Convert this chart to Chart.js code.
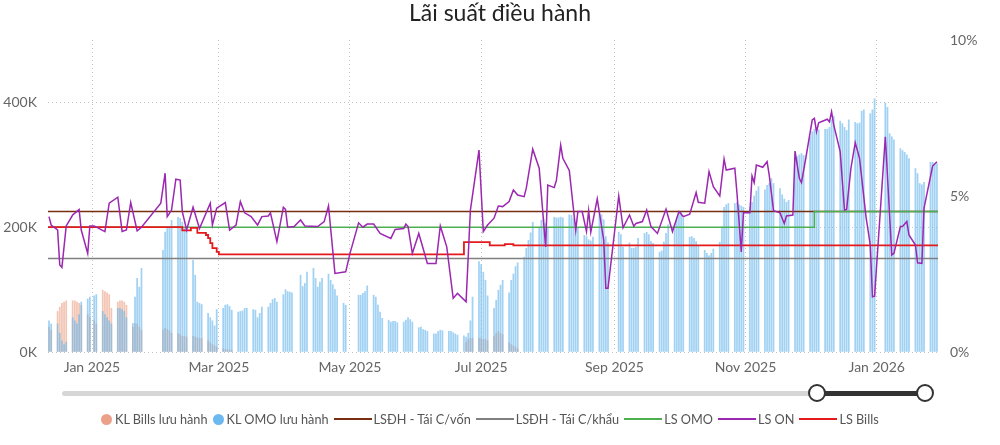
<!DOCTYPE html>
<html lang="vi">
<head>
<meta charset="utf-8">
<title>Lãi suất điều hành</title>
<script src="https://cdn.jsdelivr.net/npm/chart.js@4.4.1/dist/chart.umd.min.js"></script>
<style>
  body { margin: 0; background: #fff; }
  #wrap { position: relative; width: 1000px; height: 445px; font-family: Lato, sans-serif; }
  #rates { position: absolute; left: 0; top: 0; }
  .track { position: absolute; left: 62px; top: 391px; width: 863px; height: 5px; border-radius: 3px; background: #d6d6d6; }
  .range { position: absolute; left: 817px; top: 391px; width: 108px; height: 5px; background: #333; }
  .handle { position: absolute; top: 384px; width: 14px; height: 14px; margin-left: -9.5px;
            border: 2.5px solid #333; border-radius: 50%; background: #fff; }
  #legend { position: absolute; left: 101px; top: 411px; display: flex; align-items: center;
            font-size: 12.7px; color: #555; white-space: nowrap; }
  .item { display: flex; align-items: center; margin-right: 5px; }
  .dot { width: 11px; height: 11px; border-radius: 50%; margin-right: 3px; }
  .line { width: 38px; height: 2px; margin-right: 2px; }
</style>
</head>
<body>
<div id="wrap">
  <canvas id="rates" width="1000" height="445"></canvas>
  <div class="track"></div>
  <div class="range"></div>
  <div class="handle" style="left:817px"></div>
  <div class="handle" style="left:925px"></div>
  <div id="legend"></div>
</div>
<script>
// x values are days counted from 1 Jan 2025
const X_MIN = -20.47;
const X_MAX = 393.5;

const xTickDays   = [0, 59, 120, 181, 243, 304, 365];
const xTickLabels = ["Jan 2025", "Mar 2025", "May 2025", "Jul 2025", "Sep 2025", "Nov 2025", "Jan 2026"];
const leftTicks       = [0, 200, 400];
const leftTickLabels  = ["0K", "200K", "400K"];
const rightTicks      = [0, 5, 10];
const rightTickLabels = ["0%", "5%", "10%"];

// Outstanding volumes (thousand bn VND), one row per week Mon..Fri, first row = week of 9 Dec 2024
const WEEK0 = -23;
const omoWeeks = [
  [null, null, null, 50, 45],
  [45, 30, 18, 12, 16],
  [55, 50, 45, 60, 80],
  [85, 88, null, 90, 92],
  [65, 60, 55, 50, 45],          // 6 Jan 2025
  [70, 70, 68, 65, 55],
  [46, 88, 118, 104, 134],
  [],                            // Tet
  [163, 192, 198, 200, 211],     // 3 Feb
  [216, 214, 208, 200, 195],
  [147, 123, 80, 78, 76],
  [62, 55, 50, 42, 68],
  [70, 75, 76, 73, 67],          // 3 Mar
  [64, 65, 66, 70, 70],
  [68, 67, 55, 62, 72],
  [72, 78, 84, 86, 80],
  [92, 100, 97, 96, 95],         // 31 Mar
  [null, 123, 105, 110, 128],
  [134, 118, 104, 112, 118],
  [125, 115, 108, 100, 90],
  [78, 75],                      // 28 Apr
  [91, 91, 94, 97, 106],         // 5 May
  [91, 88, 75, 64, 54],
  [51, 48, 49, 49, 47],
  [48, 51, 55, 52, 48],
  [39, 40, 36, 35, 33],          // 2 Jun
  [29, 29, 33, 35, 34],
  [33, 33, 31, 29, 27],
  [26, 24, 30, 50, 88],
  [145, 140, 128, 115, 90],      // 30 Jun
  [70, 83, 99, 107, 115],
  [95, 115, 125, 137, 143],
  [152, 166, 179, 191, 208],
  [200, 211, 214, 206, 200],     // 28 Jul
  [216, 215, 215, 216, 215],
  [220, 219, 214, 206, 198],
  [187, 185, 180, 178, 184],
  [222, 220, 212, 185, 175],
  [null, null, 192, 188, 168],   // 1 Sep
  [175, 166, 166, 168, 182],
  [190, 192, 188, 177, 174],
  [160, 162, 176, 190, 204],
  [205, 216, 222, 225, 215],     // 29 Sep
  [184, 185, 182, 177, 170],
  [163, 158, 154, 158, 165],
  [176, 200, 232, 236, 238],
  [238, 240, 236, 234, 232],     // 27 Oct
  [232, 240, 250, 258, 265],
  [260, 267, 270, 278, 270],
  [262, 252, 245, 240, 243],
  [310, 313, 316, 318, 315],
  [345, 353, 357, 358, 356],     // 1 Dec
  [357, 357, 360, 372, 378],
  [370, 366, 360, 355, 372],
  [368, 366, 367, 386, 388],
  [382, 388, 406, null, null],
  [399, 392, 350, 345, 340],     // 5 Jan 2026
  [326, 323, 320, 316, 310],
  [294, 286, 270, 268, 272],
  [304, 304, 302, 302],
];
const billsWeeks = [
  [null, null, null, 40, 35],
  [65, 72, 78, 80, 82],
  [82, 82, 80, 78, 75],
  [60, 55, null, 50, 45],
  [99, 97, 95, 92, 70],
  [80, 82, 82, 80, 75],
  [40, 45, 45, 40, 35],
  [],
  [35, 38, 36, 34, 30],
  [30, 28, 25, 25, 24],
  [25, 24, 23, 22, 22],
  [18, 15, 12, 10, 8],
  [5, 4, 4, 3, 3],
  [], [], [], [], [], [], [], [], [], [], [], [], [], [], [],
  [null, 15, 20, 22, 22],        // 23 Jun
  [22, 22, 20, 20, 18],
  [25, 30, 33, 30, 28],
  [15, 12, 10, 8, 5],
];

// Overnight interbank rate (%)
const onDays = [
  -20, -19, -16, -15, -14, -12, -9, -8, -6, -5,
  -2, -1, 1, 6, 8, 12, 14, 16, 18, 21,
  23, 32, 34, 35, 37, 39, 41, 42, 44, 47,
  50, 55, 56, 58, 62, 64, 67, 69, 71, 74,
  77, 79, 82, 83, 86, 89, 90, 91, 94, 97,
  99, 105, 108, 110, 113, 118, 120, 124, 126, 128,
  131, 134, 139, 141, 145, 146, 147, 149, 152, 156,
  160, 162, 165, 168, 170, 174, 176, 180, 182, 184,
  187, 189, 191, 194, 196, 198, 201, 202, 205, 208,
  211, 212, 215, 216, 218, 219, 222, 225, 226, 228,
  230, 231, 232, 235, 238, 239, 240, 245, 247, 250,
  252, 253, 256, 258, 260, 263, 267, 270, 273, 275,
  278, 281, 282, 285, 287, 289, 292, 294, 295, 299,
  300, 302, 303, 306, 307, 308, 309, 312, 314, 315,
  317, 320, 322, 323, 326, 327, 329, 330, 332, 335,
  336, 337, 338, 342, 343, 344, 345, 348, 350, 351,
  353, 355, 357, 360, 362, 363, 364, 369, 372, 373,
  376, 377, 379, 380, 383, 384, 386, 387, 391, 393,
];
const onRates = [
  4.34, 4.07, 3.91, 2.79, 2.71, 4.04, 4.39, 4.45, 4.57, 3.91,
  3.16, 4.04, 4.04, 3.86, 4.77, 4.96, 3.86, 3.91, 4.79, 3.88,
  4.00, 4.77, 5.73, 4.34, 4.55, 5.54, 5.51, 4.50, 3.91, 4.64,
  3.96, 4.77, 4.07, 4.61, 4.79, 3.91, 4.07, 4.82, 4.46, 4.34,
  4.07, 4.34, 4.36, 4.46, 3.54, 4.64, 4.57, 4.00, 4.02, 4.23,
  4.04, 4.02, 4.18, 4.68, 2.52, 2.57, 3.16, 4.14, 4.00, 4.10,
  4.10, 3.80, 3.64, 3.93, 3.96, 4.10, 4.02, 3.16, 3.80, 2.84,
  2.84, 4.04, 3.37, 1.72, 1.88, 1.61, 4.55, 6.47, 3.86, 4.07,
  4.29, 4.68, 4.66, 4.82, 5.19, 5.03, 4.98, 5.25, 6.50, 5.89,
  3.37, 5.35, 5.27, 5.50, 6.63, 6.21, 5.82, 3.91, 4.50, 4.50,
  3.86, 4.53, 3.84, 4.91, 3.59, 2.04, 2.04, 5.00, 3.98, 4.39,
  4.03, 4.12, 4.18, 4.55, 4.02, 3.80, 4.58, 3.86, 4.50, 4.34,
  4.42, 5.11, 4.80, 4.77, 5.78, 5.30, 5.00, 6.18, 5.83, 5.89,
  5.09, 3.21, 4.46, 4.46, 5.64, 5.43, 5.99, 5.92, 6.10, 5.67,
  4.53, 4.46, 4.12, 4.36, 4.39, 6.44, 5.57, 5.43, 6.21, 7.44,
  7.49, 7.06, 7.35, 7.46, 7.38, 7.70, 7.28, 6.42, 4.55, 4.57,
  5.89, 6.71, 6.21, 4.34, 3.43, 1.77, 1.79, 6.90, 3.11, 3.16,
  4.02, 4.02, 4.18, 3.75, 3.43, 2.86, 2.84, 4.61, 5.96, 6.10,
];

// Step series: each value holds from its day until the next change
const billsRateDays   = [X_MIN, 42, 46, 49, 53, 54, 55, 56, 58, 59, 173, 185, 192, 196, X_MAX];
const billsRateValues = [4.00, 3.90, 3.98, 3.82, 3.75, 3.65, 3.49, 3.33, 3.21, 3.13, 3.52, 3.42, 3.46, 3.42, 3.42];
const omoRateDays     = [X_MIN, 336, X_MAX];
const omoRateValues   = [4.0, 4.5, 4.5];
const refinanceDays   = [X_MIN, X_MAX];
const refinanceValues = [4.5, 4.5];
const discountDays    = [X_MIN, X_MAX];
const discountValues  = [3.0, 3.0];

function weeklyPoints(weeks) {
  const pts = [];
  weeks.forEach((w, i) => w.forEach((v, d) => {
    if (v != null) pts.push({ x: WEEK0 + 7 * i + d, y: v });
  }));
  return pts;
}
function pairs(days, values) { return days.map((d, i) => ({ x: d, y: values[i] })); }

Chart.defaults.font.family = "Lato, sans-serif";
Chart.defaults.font.size = 14;
Chart.defaults.color = "#666";

const GRID = "#c4c4c4";

function rateLine(label, days, values, color, order, width, stepped) {
  return {
    type: "line", label, data: pairs(days, values), yAxisID: "y1", order,
    borderColor: color, backgroundColor: color, borderWidth: width,
    pointRadius: 0, tension: 0, stepped: !!stepped,
  };
}

const datasets = [
  { type: "bar", label: "KL Bills lưu hành", data: weeklyPoints(billsWeeks), yAxisID: "y", order: 7,
    backgroundColor: "rgba(232, 150, 118, 0.55)", legendColor: "#eba08a",
    barThickness: 1.1, grouped: false },
  { type: "bar", label: "KL OMO lưu hành", data: weeklyPoints(omoWeeks), yAxisID: "y", order: 6,
    backgroundColor: "rgba(105, 182, 235, 0.62)", legendColor: "#6cb8f0",
    barThickness: 1.1, grouped: false },
  rateLine("LSĐH - Tái C/vốn", refinanceDays, refinanceValues, "#7a2e10", 5, 1.5),
  rateLine("LSĐH - Tái C/khẩu", discountDays, discountValues, "#808080", 4, 1.5),
  rateLine("LS OMO", omoRateDays, omoRateValues, "#4cb050", 3, 1.5, true),
  rateLine("LS ON", onDays, onRates, "#9c27b0", 1, 1.5),
  rateLine("LS Bills", billsRateDays, billsRateValues, "#e41a1c", 2, 1.8, true),
];

new Chart(document.getElementById("rates"), {
  type: "line",
  data: { datasets },
  options: {
    responsive: false,
    animation: false,
    layout: { padding: { left: 0, right: 0, top: 0, bottom: 67 } },
    plugins: {
      legend: { display: false },
      tooltip: { enabled: false },
      title: {
        display: true, text: "Lãi suất điều hành", color: "#222",
        font: { size: 23, weight: "normal" }, padding: { top: 0, bottom: 12.4 },
      },
    },
    scales: {
      x: {
        type: "linear", min: X_MIN, max: X_MAX, offset: false,
        afterFit: s => { s.height = 26; },
        afterBuildTicks: s => { s.ticks = xTickDays.map(v => ({ value: v })); },
        ticks: { autoSkip: false, maxRotation: 0, padding: 7, callback: (v, i) => xTickLabels[i] },
        grid: { color: GRID, drawTicks: false, offset: false },
        border: { display: false, dash: [1, 3] },
      },
      y: {
        position: "left", min: 0, max: 500,
        afterFit: s => { s.width = 48; },
        afterBuildTicks: s => { s.ticks = leftTicks.map(v => ({ value: v })); },
        ticks: { padding: 11, callback: (v, i) => leftTickLabels[i] },
        grid: { color: GRID, drawTicks: false },
        border: { display: false, dash: [1, 3] },
      },
      y1: {
        position: "right", min: 0, max: 10,
        afterFit: s => { s.width = 62; },
        afterBuildTicks: s => { s.ticks = rightTicks.map(v => ({ value: v })); },
        ticks: { padding: 12, callback: (v, i) => rightTickLabels[i] },
        grid: { display: false, drawTicks: false },
        border: { display: false },
      },
    },
  },
});

// HTML legend, same order as the datasets
const legend = document.getElementById("legend");
datasets.forEach(ds => {
  const item = document.createElement("span");
  item.className = "item";
  const mark = document.createElement("span");
  mark.className = ds.type === "bar" ? "dot" : "line";
  mark.style.background = ds.legendColor || ds.borderColor;
  const text = document.createElement("span");
  text.textContent = ds.label;
  item.appendChild(mark);
  item.appendChild(text);
  legend.appendChild(item);
});
</script>
</body>
</html>
